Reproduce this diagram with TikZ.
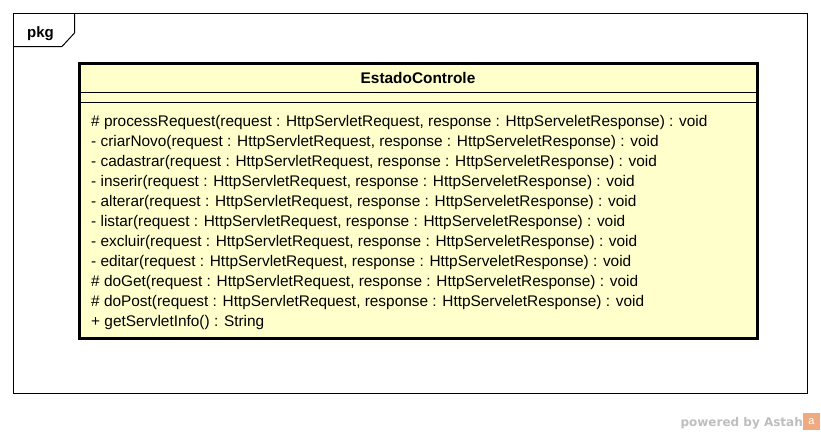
\documentclass[tikz,border=0pt]{standalone}
\usepackage{fontspec}
\setmainfont{Liberation Sans}
\newfontfamily\wmfont{DejaVu Sans}
\definecolor{clsfill}{RGB}{255,255,204}
\definecolor{wmgrey}{RGB}{190,190,190}
\definecolor{logoorange}{RGB}{240,170,130}
\begin{document}
\begin{tikzpicture}[x=1pt,y=-1pt,
  op/.style={anchor=base west,inner sep=0pt,font=\fontsize{15.4}{17}\selectfont},
  frameline/.style={draw=black,line width=1pt}]
\useasboundingbox (0,0) rectangle (821,434);
\fill[white] (0,0) rectangle (821,434);
% package frame
\draw[frameline] (13.5,13.5) rectangle (807.5,393.5);
\draw[frameline] (13.5,46.5) -- (62,46.5) -- (74.5,33) -- (74.5,13.5);
\node[anchor=base west,inner sep=0pt,font=\bfseries\fontsize{15}{17}\selectfont] (pkg) at (27,37) {pkg};
% class
\node[draw=black,line width=3pt,fill=clsfill,minimum width=678,minimum height=275,anchor=north west,inner sep=0pt,outer sep=0pt] (cls) at (79.5,63.5) {};
\draw[line width=1pt] ([yshift=-29]cls.north west) -- ([yshift=-29]cls.north east);
\draw[line width=1pt] ([yshift=-39]cls.north west) -- ([yshift=-39]cls.north east);
\node[anchor=base,inner sep=0pt,font=\bfseries\fontsize{15.4}{17}\selectfont] (name) at (418,83.5) {EstadoControle};
\node[op] (o1) at (91,126) {\# processRequest(request : HttpServletRequest, response : HttpServeletResponse) : void};
\node[op] (o2) at (91,146) {- criarNovo(request : HttpServletRequest, response : HttpServeletResponse) : void};
\node[op] (o3) at (91,166) {- cadastrar(request : HttpServletRequest, response : HttpServeletResponse) : void};
\node[op] (o4) at (91,186) {- inserir(request : HttpServletRequest, response : HttpServeletResponse) : void};
\node[op] (o5) at (91,206) {- alterar(request : HttpServletRequest, response : HttpServeletResponse) : void};
\node[op] (o6) at (91,226) {- listar(request : HttpServletRequest, response : HttpServeletResponse) : void};
\node[op] (o7) at (91,246) {- excluir(request : HttpServletRequest, response : HttpServeletResponse) : void};
\node[op] (o8) at (91,266) {- editar(request : HttpServletRequest, response : HttpServeletResponse) : void};
\node[op] (o9) at (91,286) {\# doGet(request : HttpServletRequest, response : HttpServeletResponse) : void};
\node[op] (o10) at (91,306) {\# doPost(request : HttpServletRequest, response : HttpServeletResponse) : void};
\node[op] (o11) at (91,326) {+ getServletInfo() : String};
% watermark
\node[anchor=base east,inner sep=0pt,text=wmgrey,font=\wmfont\bfseries\fontsize{12}{14}\selectfont] (wm) at (803,426) {powered by Astah};
\fill[logoorange] (803,413) rectangle (820,430);
\node[inner sep=0pt,text=white,font=\fontsize{11}{11}\selectfont] (logo) at (811.5,422) {a};
\end{tikzpicture}
\end{document}
